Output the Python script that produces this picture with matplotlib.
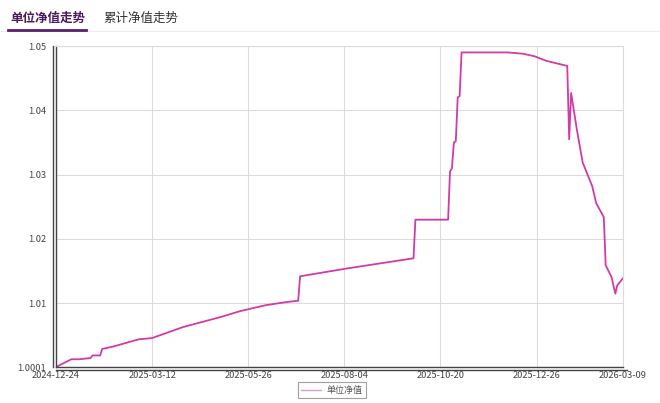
import matplotlib
matplotlib.use("Agg")
import matplotlib.pyplot as plt
from matplotlib.lines import Line2D
from matplotlib.transforms import offset_copy

plt.rcParams['font.family'] = ['Noto Sans CJK SC', 'DejaVu Sans']

# trading-day index and unit NAV (key points)
day_idx = [0, 8, 12, 18, 19, 23, 24, 30, 43, 50, 66, 86, 96, 109, 120, 126,
           127, 137, 151, 186, 187, 204, 205, 206, 207, 208, 209, 210, 211,
           235, 243, 249, 255, 266, 267, 268, 271, 274, 279, 281, 285, 286,
           289, 291, 292, 295]
nav = [1.0001, 1.0013, 1.0013, 1.0015, 1.0019, 1.0019, 1.0029, 1.0033,
       1.0044, 1.0046, 1.0063, 1.0079, 1.0088, 1.0097, 1.0102, 1.0104,
       1.0142, 1.0147, 1.0154, 1.0170, 1.0230, 1.0230, 1.0305, 1.0310,
       1.0350, 1.0352, 1.0420, 1.0422, 1.0490,
       1.0490, 1.0488, 1.0484, 1.0477, 1.0469, 1.0355, 1.0427, 1.0370,
       1.0319, 1.0282, 1.0256, 1.0234, 1.0159, 1.0141, 1.0115, 1.0128,
       1.0139]

x_tick_idx = [0, 50, 100, 150, 200, 250, 295]
x_tick_labels = ['2024-12-24', '2025-03-12', '2025-05-26', '2025-08-04',
                 '2025-10-20', '2025-12-26', '2026-03-09']
y_ticks = [1.0001, 1.01, 1.02, 1.03, 1.04, 1.05]
y_tick_labels = ['1.0001', '1.01', '1.02', '1.03', '1.04', '1.05']

W, H = 660, 403
fig = plt.figure(figsize=(W / 100, H / 100), dpi=100)
fig.patch.set_facecolor('white')

L, R, T, B = 56, 623, 46, 367
ax = fig.add_axes([L / W, 1 - B / H, (R - L) / W, (B - T) / H])
ax.set_facecolor('white')

line, = ax.plot(day_idx, nav, color='#d23aa8', lw=1.3, label='单位净值')

ax.set_xlim(0, 295)
ax.set_ylim(1.0001, 1.05)
ax.set_xticks(x_tick_idx)
ax.set_xticklabels(x_tick_labels)
ax.set_yticks(y_ticks)
ax.set_yticklabels(y_tick_labels)
ax.tick_params(length=0, labelsize=6.7, labelcolor='#444444')
ax.tick_params(axis='x', pad=3)
ax.tick_params(axis='y', pad=7)
ax.grid(True, color='#dcdcdc', lw=0.8)
ax.set_axisbelow(True)

for s in ['top', 'right']:
    ax.spines[s].set_color('#dcdcdc')
    ax.spines[s].set_linewidth(0.8)
for s in ['left', 'bottom']:
    ax.spines[s].set_color('#444444')
    ax.spines[s].set_linewidth(1.0)

# double axis lines
tl = offset_copy(ax.transAxes, fig=fig, x=-3, y=0, units='dots')
ax.add_line(Line2D([0, 0], [0, 1], transform=tl, color='#444444', lw=1.0, clip_on=False))
tb = offset_copy(ax.transAxes, fig=fig, x=0, y=-2.5, units='dots')
ax.add_line(Line2D([0, 1.007], [0, 0], transform=tb, color='#444444', lw=1.0, clip_on=False))

leg = ax.legend(handles=[line], loc='upper center', bbox_to_anchor=(0.487, -0.047),
                borderaxespad=0, fontsize=6.5, frameon=True, fancybox=False,
                handlelength=2.2, handletextpad=0.6, borderpad=0.4,
                labelcolor='#555555')
leg.get_frame().set_edgecolor('#888888')
leg.get_frame().set_linewidth(0.8)
leg.get_lines()[0].set_color('#d99ad6')
leg.get_lines()[0].set_linewidth(1.0)

# tabs
fig.text(10 / W, 1 - 18 / H, '单位净值走势', fontsize=9, fontweight='bold',
         color='#4a1a5e', va='center', ha='left')
fig.text(103 / W, 1 - 18 / H, '累计净值走势', fontsize=9,
         color='#333333', va='center', ha='left')
fig.add_artist(Line2D([0, 1], [1 - 31 / H, 1 - 31 / H], transform=fig.transFigure,
                      color='#ececec', lw=0.8))
fig.add_artist(Line2D([8 / W, 86 / W], [1 - 30 / H, 1 - 30 / H], transform=fig.transFigure,
                      color='#5a2070', lw=2))

fig.savefig('out.png', dpi=100)
